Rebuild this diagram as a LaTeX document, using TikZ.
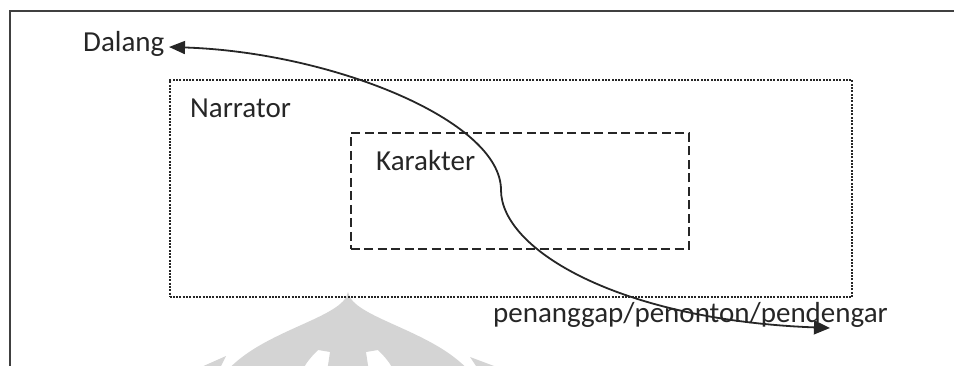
\documentclass[tikz,border=0pt]{standalone}
\usepackage{fontspec}
\setmainfont{Carlito}
\usetikzlibrary{arrows.meta}
\definecolor{ink}{HTML}{262626}
\definecolor{wmark}{HTML}{D4D4D4}
\tikzset{
  lbl/.style={anchor=base west, inner sep=0pt, text=ink, font=\fontsize{29}{35}\selectfont},
  narrbox/.style={draw=ink, line width=2pt, dash pattern=on 2pt off 1.3pt, inner sep=0pt},
  karbox/.style={draw=ink, line width=1.8pt, dash pattern=on 9pt off 4.5pt, inner sep=0pt},
  frameline/.style={draw=black!75, line width=2.2pt},
  flow/.style={draw=ink, line width=1.8pt, {Triangle[length=16pt,width=13pt]}-{Triangle[length=16pt,width=14pt]}}
}
\begin{document}
\begin{tikzpicture}[x=1pt,y=-1pt]
\useasboundingbox (0,0) rectangle (954,366);
\clip (0,0) rectangle (954,366);
% watermark
\fill[wmark, even odd rule]
  (348,292) .. controls (344,318) and (262,330) .. (226,372) -- (470,372)
  .. controls (434,330) and (352,318) .. (348,292) -- cycle
  (318,350) .. controls (310,358) and (305,364) .. (302,372) -- (327,372) -- (330,352) -- cycle
  (378,350) .. controls (386,358) and (391,364) .. (394,372) -- (369,372) -- (366,352) -- cycle;
\fill[wmark] (190,372) -- (226,356) -- (218,372) -- cycle;
\fill[wmark] (470,357) -- (510,372) -- (480,372) -- cycle;
% frame
\draw[frameline] (10,380) -- (10,11) -- (970,11);
% boxes
\node[narrbox, minimum width=682.5pt, minimum height=217.5pt] (narr) at (510.75,188.75) {};
\node[karbox, minimum width=338.3pt, minimum height=115.7pt] (kar) at (519.85,191.15) {};
% labels
\node[lbl] (dalang) at (83,52) {Dalang};
\node[lbl] (narrator) at (190,118) {Narrator};
\node[lbl] (karakter) at (376,171) {Karakter};
\node[lbl] (penonton) at (493,323) {penanggap/penonton/pendengar};
% connector
\coordinate (dtip) at (169,47);
\coordinate (turn) at (501,190);
\coordinate (ptip) at (830,328);
\draw[flow] (dtip) .. controls (330,52) and (501,120) .. (turn)
  .. controls (501,250) and (620,320) .. (ptip);
\end{tikzpicture}
\end{document}
